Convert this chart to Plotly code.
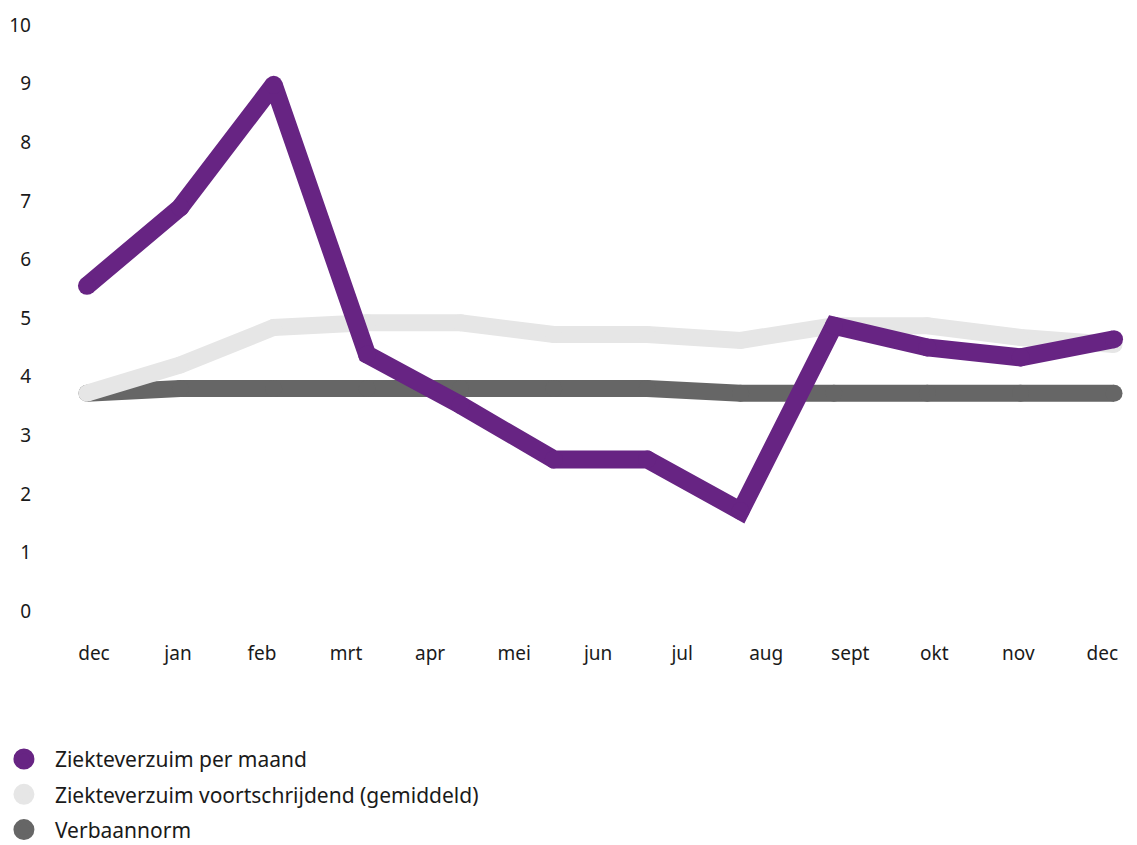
import plotly.graph_objects as go

# Data
points = list(range(12))
month_labels = ["dec", "jan", "feb", "mrt", "apr", "mei", "jun", "jul", "aug", "sept", "okt", "nov", "dec"]
ziekteverzuim_per_maand = [5.55, 6.89, 8.98, 4.38, 3.52, 2.59, 2.59, 1.71, 4.87, 4.50, 4.33, 4.64]
ziekteverzuim_voortschrijdend = [3.72, 4.20, 4.84, 4.92, 4.92, 4.72, 4.72, 4.62, 4.87, 4.87, 4.67, 4.55]
verbaannorm = [3.72, 3.80, 3.80, 3.80, 3.80, 3.80, 3.80, 3.72, 3.72, 3.72, 3.72, 3.72]
y_ticks = list(range(0, 11))

PURPLE = "#672483"
LIGHT = "#e6e6e6"
DARK = "#666666"
FONT = "Noto Sans"

# label positions (13 labels spread over the 12 data points)
label_pos = [0.075 + 0.9 * i for i in range(len(month_labels))]

fig = go.Figure()

series = [
    ("Verbaannorm", verbaannorm, DARK, 17, 3),
    ("Ziekteverzuim voortschrijdend (gemiddeld)", ziekteverzuim_voortschrijdend, LIGHT, 17, 2),
    ("Ziekteverzuim per maand", ziekteverzuim_per_maand, PURPLE, 18, 1),
]
for name, vals, col, w, rank in series:
    fig.add_trace(go.Scatter(
        x=points, y=vals, mode="lines+markers",
        line=dict(color=col, width=w),
        marker=dict(color=col, size=w, line=dict(width=0)),
        showlegend=False, hoverinfo="skip",
    ))
    fig.add_trace(go.Scatter(
        x=[None], y=[None], mode="markers", name=name,
        legendgroup=name,
        marker=dict(color=col, size=16, line=dict(width=8, color=col)),
        legendrank=rank,
    ))

fig.update_layout(
    width=1129, height=837,
    paper_bgcolor="white", plot_bgcolor="white",
    margin=dict(l=32, r=10, t=7, b=215, autoexpand=False),
    font=dict(family=FONT, size=19, color="#1a1a1a"),
    showlegend=True,
    legend=dict(
        x=-0.0433, xanchor="left", y=-0.177, yanchor="top",
        font=dict(family=FONT, size=21, color="#1a1a1a"),
        itemwidth=52, tracegroupgap=5, bgcolor="rgba(0,0,0,0)",
    ),
    xaxis=dict(
        range=[-0.503, 11.139], showgrid=False, zeroline=False, showline=False,
        tickmode="array", tickvals=label_pos, ticktext=month_labels, ticks="",
        ticklabelstandoff=10, fixedrange=True,
    ),
    yaxis=dict(
        range=[-0.32, 10.17], showgrid=False, zeroline=False, showline=False,
        tickmode="array", tickvals=y_ticks, ticks="", ticklabelstandoff=8,
        ticklabeloverflow="allow",
    ),
)

fig.write_html("out.html")
